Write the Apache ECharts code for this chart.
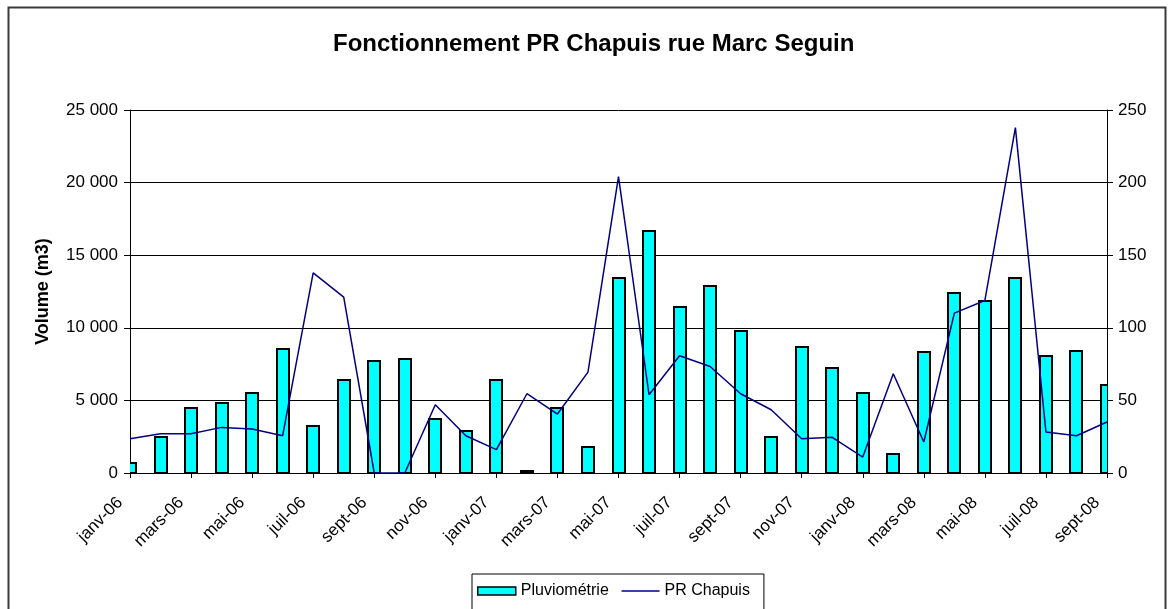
<!DOCTYPE html>
<html>
<head>
<meta charset="utf-8">
<script src="https://cdn.jsdelivr.net/npm/echarts@6/dist/echarts.min.js"></script>
<style>
html,body{margin:0;padding:0;background:#fff;}
#chart{width:1170px;height:609px;}
</style>
</head>
<body>
<div id="chart"></div>
<script>
var categories = ['janv-06','févr-06','mars-06','avr-06','mai-06','juin-06','juil-06','août-06','sept-06','oct-06','nov-06','déc-06',
  'janv-07','févr-07','mars-07','avr-07','mai-07','juin-07','juil-07','août-07','sept-07','oct-07','nov-07','déc-07',
  'janv-08','févr-08','mars-08','avr-08','mai-08','juin-08','juil-08','août-08','sept-08'];
// Pluviométrie (mm, right axis)
var pluviometrie = [6.9,24.8,44.7,48.2,54.8,85.3,32.6,63.8,77.3,78.4,37.2,29.1,
  64.0,1.1,44.7,17.9,134.4,167.0,114.4,128.9,97.5,24.8,86.5,72.0,
  55.0,13.3,83.0,124.3,118.8,134.4,80.7,83.9,60.8];
// PR Chapuis (m3, left axis)
var prChapuis = [2362,2706,2706,3142,3028,2569,13784,12110,0,0,4702,2569,
  1606,5459,4060,6950,20413,5390,8073,7339,5459,4358,2362,2454,
  1101,6835,2133,11009,11881,23784,2821,2569,3509];

var FONT = "'Liberation Sans', Arial, sans-serif";
var BAR_W = 12;
var chart = echarts.init(document.getElementById('chart'), null, {renderer:'canvas'});
chart.setOption({
  backgroundColor:'#fff',
  animation:false,
  graphic:[{type:'rect', shape:{x:8.5,y:7.5,width:1157,height:620}, style:{fill:'none',stroke:'#3a3a3a',lineWidth:2}, z:-1}],
  title:{text:'Fonctionnement PR Chapuis rue Marc Seguin', left:328, top:27,
    textStyle:{fontFamily:FONT,fontSize:24,fontWeight:'bold',color:'#000'}},
  grid:{left:130,right:63,top:110,bottom:136,containLabel:false},
  legend:{left:472, top:574, orient:'horizontal', itemWidth:38, itemHeight:8, itemGap:12,
    padding:[9,14,20,5], borderColor:'#000', borderWidth:1, backgroundColor:'#fff',
    textStyle:{fontFamily:FONT,fontSize:16,color:'#000'},
    data:[
      {name:'Pluviométrie',icon:'rect',itemStyle:{color:'#00FFFF',borderColor:'#000',borderWidth:1.5}},
      {name:'PR Chapuis',itemStyle:{color:'rgba(0,0,0,0)',borderWidth:0,opacity:0},lineStyle:{color:'#000080',width:1.5}}
    ]},
  xAxis:{type:'category', data:categories, boundaryGap:false,
    axisLine:{lineStyle:{color:'#000',width:1}},
    axisTick:{interval:1,length:5,lineStyle:{color:'#000'}},
    axisLabel:{interval:1,rotate:45,margin:17,padding:[0,14,0,0],fontFamily:FONT,fontSize:17,color:'#000'},
    splitLine:{show:false}},
  yAxis:[
    {type:'value', min:0, max:25000, interval:5000, position:'left',
      name:'Volume (m3)', nameLocation:'middle', nameGap:78,
      nameTextStyle:{fontFamily:FONT,fontSize:18,fontWeight:'bold',color:'#000'},
      axisLine:{show:true,lineStyle:{color:'#000'}},
      axisTick:{show:true,length:6,lineStyle:{color:'#000'}},
      axisLabel:{margin:12,fontFamily:FONT,fontSize:17,color:'#000',
        formatter:function(v){return String(v).replace(/\B(?=(\d{3})+(?!\d))/g,' ');}},
      splitLine:{show:true,lineStyle:{color:'#000',width:1}}},
    {type:'value', min:0, max:250, interval:50, position:'right',
      axisLine:{show:true,lineStyle:{color:'#000'}},
      axisTick:{show:true,length:6,lineStyle:{color:'#000'}},
      axisLabel:{margin:11,fontFamily:FONT,fontSize:17,color:'#000'},
      splitLine:{show:false}}
  ],
  series:[
    {name:'Pluviométrie', type:'custom', yAxisIndex:1, clip:true,
      data:pluviometrie.map(function(v,i){return [i,v];}),
      encode:{x:0,y:1},
      itemStyle:{color:'#00FFFF',borderColor:'#000',borderWidth:2},
      renderItem:function(params, api){
        var top = api.coord([api.value(0), api.value(1)]);
        var base = api.coord([api.value(0), 0]);
        var y0 = Math.round(top[1]);
        return {type:'rect',
          shape:{x:Math.round(top[0]-BAR_W/2), y:y0, width:BAR_W, height:Math.round(base[1])-y0},
          style:{fill:'#00FFFF',stroke:'#000',lineWidth:2}};
      }},
    {name:'PR Chapuis', type:'line', yAxisIndex:0, data:prChapuis, symbol:'none', showSymbol:false,
      lineStyle:{color:'#000080',width:1.5}, itemStyle:{color:'#000080'}, z:3}
  ]
});
</script>
</body>
</html>
